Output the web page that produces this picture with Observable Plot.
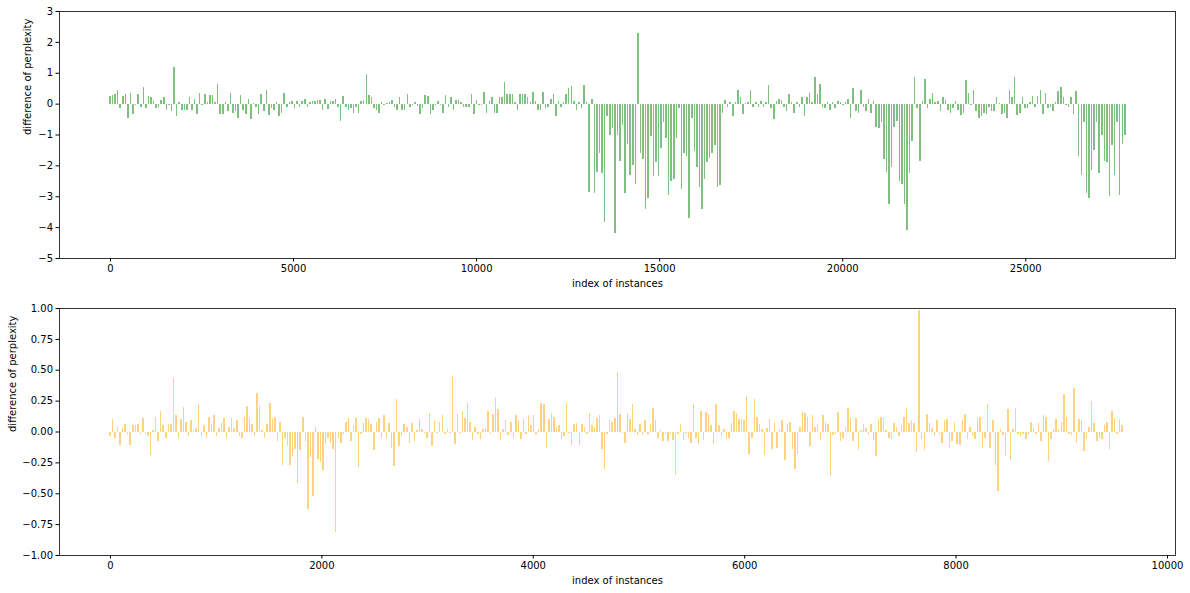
<!DOCTYPE html>
<html><head><meta charset="utf-8">
<script src="https://cdn.jsdelivr.net/npm/d3@7"></script>
<script src="https://cdn.jsdelivr.net/npm/@observablehq/plot@0.6"></script>
<style>body{margin:0;background:#fff} #chart svg{display:block}</style>
</head><body><div id="chart"></div>
<script>
// index spacing between successive plotted instances
const topStep = 70;
const topValues = [
0.25,0.28,0.3,0.45,-0.15,0.25,0.3,-0.45,0.35,-0.35,
-0.05,0.3,-0.1,0.55,-0.15,0.25,0.2,0.1,-0.15,-0.1,
0.12,0.2,-0.2,-0.05,-0.25,1.2,-0.4,0.05,-0.2,-0.2,
-0.2,0.2,-0.2,0.15,-0.35,0.35,-0.05,0.3,0.05,0.28,
0.28,0.05,0.62,-0.35,-0.35,0.05,-0.25,0.33,-0.3,-0.25,
-0.45,0.28,-0.2,-0.32,0.15,-0.5,0.02,-0.1,-0.35,0.32,
-0.25,0.45,-0.38,-0.15,-0.2,0.05,-0.4,-0.3,0.35,-0.1,
0.05,0.1,-0.15,0.08,-0.12,0.1,0.15,-0.1,0.05,0.1,
0.1,0.12,0.12,-0.2,0.15,-0.18,0.1,0.08,0.15,-0.1,
-0.55,0.25,-0.1,-0.2,-0.15,-0.3,-0.1,-0.3,0.1,0.12,
0.95,0.28,0.2,-0.15,-0.2,-0.3,0.05,-0.05,0.03,0.05,
0.12,-0.1,-0.2,0.2,-0.22,-0.22,0.32,-0.1,-0.05,0.05,
-0.08,-0.35,-0.15,0.28,0.25,-0.35,-0.2,-0.05,0.1,-0.05,
-0.3,0.28,-0.1,0.22,-0.2,0.12,0.12,0.05,-0.1,-0.1,
-0.12,0.32,-0.35,0.12,-0.05,-0.05,0.38,-0.3,0.1,0.22,
-0.3,-0.3,0.22,0.2,0.7,0.3,0.3,0.32,0.05,-0.2,
0.3,0.32,0.3,0.2,0.05,0.38,0.1,-0.2,-0.2,0.38,
-0.15,-0.1,0.15,0.32,-0.4,0.1,-0.1,0.05,0.3,0.5,
0.57,0.1,-0.2,0.05,-0.15,0.6,0.05,-2.85,0.15,-2.9,
-2.2,-1.6,-2.25,-3.85,-0.4,-1.0,-0.8,-4.2,-1.0,-1.85,
-0.7,-2.9,-1.3,-2.3,-2.0,-2.6,2.3,-1.6,-1.8,-3.4,
-3.05,-1.05,-2.35,-1.9,-2.35,-1.45,-0.6,-1.1,-2.95,-2.5,
-2.45,-1.1,-0.15,-2.75,-1.6,-1.7,-3.7,-0.45,-1.55,-2.05,
-2.7,-3.4,-2.45,-1.9,-1.75,-1.6,-1.35,-2.7,-2.65,-0.3,
0.12,-0.1,0.05,-0.4,0.05,0.45,0.2,-0.35,0.02,0.05,
0.45,-0.1,0.05,-0.1,0.08,-0.1,0.05,0.6,-0.15,-0.5,
0.1,0.15,0.12,-0.1,-0.25,0.3,0.05,-0.3,0.05,-0.1,
0.2,-0.4,0.2,0.35,0.05,0.85,0.3,0.65,-0.1,-0.15,
0.05,-0.2,0.05,-0.15,0.1,0.05,-0.05,0.05,0.15,-0.45,
0.5,-0.25,-0.3,0.45,-0.1,-0.25,0.15,-0.3,0.1,-0.75,
-0.8,-0.6,-1.8,-2.2,-3.25,-2.05,-0.75,-0.55,-2.5,-2.6,
-3.25,-4.1,-2.25,-1.2,0.85,-0.15,-1.85,0.1,0.8,-0.15,
0.15,0.35,0.05,0.1,-0.25,0.2,0.12,-0.2,-0.3,-0.15,
0.08,-0.2,-0.38,-0.3,0.75,0.35,-0.05,0.45,-0.25,-0.45,
-0.4,-0.3,-0.35,-0.1,-0.25,-0.25,0.2,0.02,-0.35,-0.3,
-0.45,0.45,0.2,0.85,-0.38,-0.3,0.2,-0.15,-0.15,0.05,
0.25,-0.1,0.25,0.45,-0.35,0.35,-0.15,-0.1,-0.25,0.05,
0.4,0.55,0.2,-0.05,-0.1,0.2,-0.35,0.4,-1.7,-2.3,
-0.6,-2.9,-3.05,-2.15,-1.5,-0.6,-2.25,-1.0,-1.85,-1.9,
-3.0,-1.35,-2.3,-0.6,-2.95,-1.3,-1.0
];
const bottomStep = 24;
const bottomValues = [
-0.04,0.1,-0.05,0.04,-0.11,0.03,0.06,-0.02,-0.11,0.05,
0.05,0.06,-0.02,0.11,-0.02,-0.04,-0.19,0.01,0.12,-0.08,
0.17,0.05,-0.05,0.06,0.06,0.43,0.13,-0.05,0.1,0.2,
0.08,-0.04,0.09,0.01,0.03,0.22,-0.04,0.05,-0.05,0.12,
0.06,0.13,-0.04,0.03,0.07,0.11,-0.05,0.04,0.11,0.03,
0.09,-0.04,-0.05,0.12,0.21,0.11,0.06,-0.04,0.31,0.21,
0.01,-0.05,0.06,0.23,0.11,0.12,-0.08,0.08,-0.27,-0.05,
-0.12,-0.27,-0.2,-0.14,-0.42,-0.15,0.12,-0.08,-0.63,-0.21,
-0.52,0.04,-0.22,-0.25,-0.31,-0.1,-0.05,-0.09,-0.14,-0.81,
-0.05,-0.09,-0.02,0.08,0.11,-0.08,0.05,0.11,-0.29,-0.02,
0.07,0.11,0.1,0.06,-0.15,0.08,0.11,-0.05,0.13,-0.05,
0.07,-0.13,-0.28,0.26,-0.12,-0.04,0.06,0.04,-0.09,0.07,
-0.08,0.01,0.1,0.02,-0.01,-0.05,0.15,-0.12,0.09,-0.01,
0.08,0.13,-0.02,0.02,-0.01,0.45,-0.1,0.14,-0.01,0.17,
0.11,0.23,0.08,-0.07,0.04,-0.02,-0.06,0.02,0.03,0.17,
-0.02,0.14,0.27,0.18,-0.07,0.02,0.09,-0.03,0.08,-0.05,
0.13,0.09,-0.06,0.1,-0.02,0.13,0.05,0.13,-0.02,0.02,
0.23,0.22,-0.13,0.1,0.15,0.12,0.04,0.05,-0.06,-0.04,
0.23,-0.01,-0.11,0.06,0.07,-0.11,0.06,0.04,-0.02,0.15,
0.05,0.04,0.11,0.13,-0.14,-0.3,-0.02,0.09,0.08,0.11,
0.48,0.14,-0.01,-0.09,0.15,0.1,0.22,0.02,-0.03,0.06,
-0.03,0.09,-0.02,0.06,0.19,0.09,-0.05,0.01,-0.08,-0.01,
-0.08,-0.02,-0.07,-0.35,-0.02,0.06,-0.07,-0.01,-0.05,-0.09,
0.22,-0.05,-0.1,0.17,-0.07,0.16,0.14,0.05,-0.1,0.22,
0.05,-0.04,0.02,-0.06,-0.05,0.07,0.17,0.15,0.1,0.1,
0.09,0.29,-0.18,-0.05,0.26,0.12,0.06,0.02,-0.19,0.03,
0.1,-0.14,0.07,-0.13,0.02,0.09,-0.23,0.06,0.08,-0.14,
-0.3,-0.18,0.04,0.16,0.15,0.12,-0.12,0.13,0.04,0.06,
-0.07,0.13,0.08,0.06,-0.36,-0.03,-0.02,0.16,-0.08,-0.05,
0.04,0.19,0.11,-0.08,0.11,-0.15,0.01,0.06,0.03,-0.03,
0.06,-0.07,-0.2,0.1,0.12,0.11,0.01,-0.05,-0.06,0.07,
0.04,-0.04,0.05,0.12,0.19,0.07,0.09,0.07,-0.17,0.98,
-0.06,-0.15,0.14,0.07,0.03,-0.04,0.09,-0.02,-0.09,0.09,
0.1,-0.13,-0.08,0.08,-0.1,-0.11,0.09,0.14,-0.06,0.04,
-0.04,-0.06,0.11,0.12,-0.13,-0.05,0.22,-0.13,0.09,-0.27,
-0.48,0.02,-0.03,-0.2,0.18,-0.23,0.02,0.19,-0.02,-0.04,
-0.02,-0.06,-0.02,0.08,0.03,-0.02,0.07,-0.08,0.13,0.12,
-0.24,-0.06,0.02,0.1,0.02,0.08,0.3,0.12,-0.02,-0.03,
0.35,-0.09,0.1,0.09,-0.16,-0.06,0.04,0.25,0.07,-0.08,
-0.05,-0.06,0.05,0.08,-0.14,0.17,0.11,-0.02,0.1,0.05
];
const topXTicks = [0, 5000, 10000, 15000, 20000, 25000];
const topYTicks = [-5, -4, -3, -2, -1, 0, 1, 2, 3];
const bottomXTicks = [0, 2000, 4000, 6000, 8000, 10000];
const bottomYTicks = [-1, -0.75, -0.5, -0.25, 0, 0.25, 0.5, 0.75, 1];
const xLabel = "index of instances";
const yLabel = "difference of perplexity";

function panel(o) {
  const w = o.step * 0.6;
  const data = o.values.map((v, i) => ({x1: i * o.step - w / 2, x2: i * o.step + w / 2, v}));
  return Plot.plot({
    width: 1190, height: o.height,
    marginTop: o.marginTop, marginBottom: o.marginBottom, marginLeft: 59, marginRight: 15,
    style: {fontFamily: "DejaVu Sans", fontSize: "10px", color: "#000", background: "#fff"},
    x: {domain: o.xDomain},
    y: {domain: o.yDomain},
    marks: [
      Plot.rect(data, {x1: "x1", x2: "x2", y1: 0, y2: "v", fill: o.color, fillOpacity: 0.5, shapeRendering: "crispEdges"}),
      Plot.frame({stroke: "#000", strokeWidth: 0.8}),
      Plot.axisX({ticks: o.xTicks, tickFormat: d3.format("d"), tickSize: 3.5, tickPadding: 3, label: null}),
      Plot.axisY({ticks: o.yTicks, tickFormat: o.yFormat, tickSize: 3.5, tickPadding: 3, label: null}),
      Plot.text([xLabel], {text: d => d, frameAnchor: "bottom", dy: 25, lineAnchor: "middle", fill: "#000"}),
      Plot.text([yLabel], {text: d => d, frameAnchor: "left", dx: o.yLabelDx, rotate: -90, lineAnchor: "middle", fill: "#000"})
    ]
  });
}

const chart = document.getElementById("chart");
chart.append(panel({
  values: topValues, step: topStep, color: "green",
  xDomain: [-1393, 29090], yDomain: [-5, 3],
  xTicks: topXTicks, yTicks: topYTicks, yFormat: d3.format("d"), yLabelDx: -32,
  height: 296, marginTop: 11, marginBottom: 38
}));
chart.append(panel({
  values: bottomValues, step: bottomStep, color: "orange",
  xDomain: [-482, 10076], yDomain: [-1, 1],
  xTicks: bottomXTicks, yTicks: bottomYTicks, yFormat: d3.format(".2f"), yLabelDx: -47,
  height: 297, marginTop: 12, marginBottom: 38
}));
</script>
</body></html>
